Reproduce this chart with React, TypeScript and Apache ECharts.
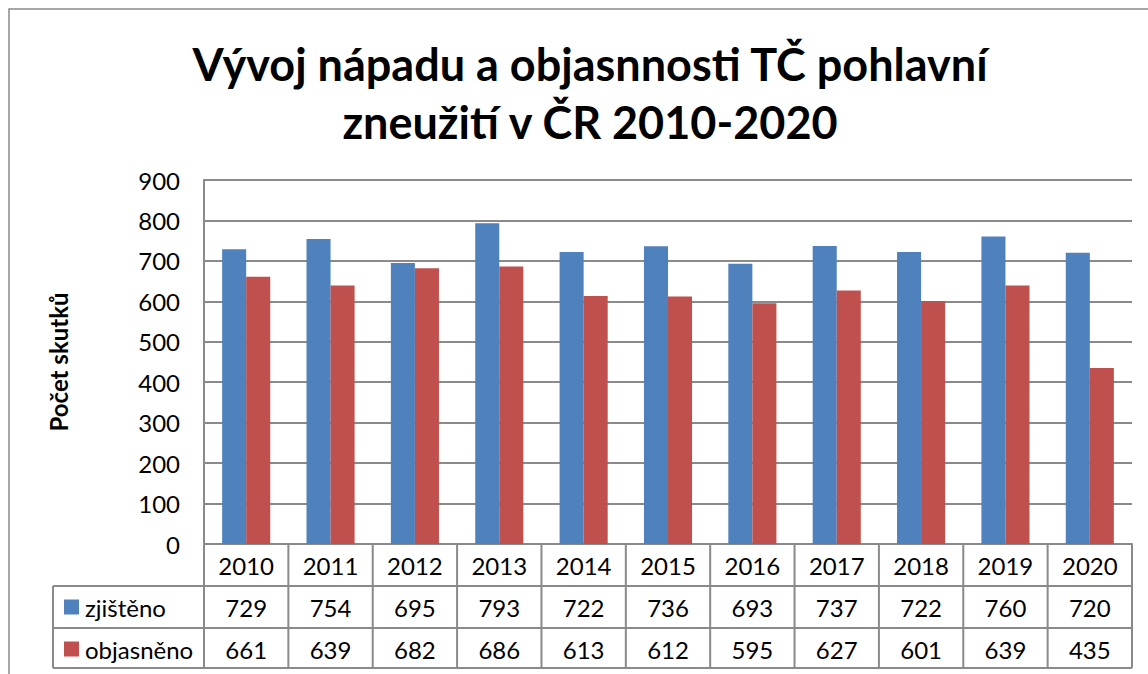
import React, { useEffect, useRef } from "react";
import * as echarts from "echarts";

const years = ["2010", "2011", "2012", "2013", "2014", "2015", "2016", "2017", "2018", "2019", "2020"];
const zjisteno = [729, 754, 695, 793, 722, 736, 693, 737, 722, 760, 720];
const objasneno = [661, 639, 682, 686, 613, 612, 595, 627, 601, 639, 435];
const seriesNames = ["zjištěno", "objasněno"];
const colors = ["#4F81BD", "#C0504D"];

const FONT = "Lato, 'Noto Sans', sans-serif";
const FS = 24;
const GRID = { left: 204, top: 180, width: 928, height: 364 };
const ROW_H = 42;
const LEGEND_X = 53;
const LINE = "#8a8a8a";

export default function App() {
  const ref = useRef<HTMLDivElement>(null);
  useEffect(() => {
    document.body.style.margin = "0";
    const chart = echarts.init(ref.current!, null, { renderer: "svg" });
    const right = GRID.left + GRID.width;
    const bottom = GRID.top + GRID.height;
    const cw = GRID.width / years.length;
    const rowsTop = bottom + ROW_H;
    const tableBottom = rowsTop + ROW_H * 2 - 2;
    const g: any[] = [];
    g.push({ type: "rect", shape: { x: 9, y: 9, width: 1200, height: 800 }, style: { fill: "none", stroke: LINE, lineWidth: 1.5 }, silent: true });
    [rowsTop, rowsTop + ROW_H, tableBottom].forEach((y) => {
      g.push({ type: "line", shape: { x1: LEGEND_X, y1: y, x2: right, y2: y }, style: { stroke: LINE, lineWidth: 2 } });
    });
    g.push({ type: "line", shape: { x1: LEGEND_X, y1: rowsTop, x2: LEGEND_X, y2: tableBottom }, style: { stroke: LINE, lineWidth: 2 } });
    for (let i = 0; i <= years.length; i++) {
      const x = GRID.left + i * cw;
      g.push({ type: "line", shape: { x1: x, y1: bottom, x2: x, y2: tableBottom }, style: { stroke: LINE, lineWidth: 2 } });
    }
    [zjisteno, objasneno].forEach((arr, r) => {
      const cy = rowsTop + ROW_H * r + ROW_H / 2;
      g.push({ type: "rect", shape: { x: 64, y: cy - 7.5, width: 15, height: 15 }, style: { fill: colors[r] } });
      g.push({ type: "text", x: 85, y: cy, style: { text: seriesNames[r], font: `${FS}px ${FONT}`, fill: "#000", textAlign: "left", textVerticalAlign: "middle" } });
      arr.forEach((v, i) => {
        g.push({ type: "text", x: GRID.left + (i + 0.5) * cw, y: cy, style: { text: String(v), font: `${FS}px ${FONT}`, fill: "#000", textAlign: "center", textVerticalAlign: "middle" } });
      });
    });

    chart.setOption({
      animation: false,
      title: {
        text: "Vývoj nápadu a objasnnosti TČ pohlavní\nzneužití v ČR 2010-2020",
        left: 585,
        textAlign: "center",
        top: 30,
        textStyle: { fontFamily: FONT, fontWeight: "bold", fontSize: 45, lineHeight: 58, color: "#000" },
      },
      grid: { left: GRID.left, top: GRID.top, width: GRID.width, height: GRID.height },
      xAxis: {
        type: "category",
        data: years,
        axisLine: { lineStyle: { color: LINE, width: 2 } },
        axisTick: { show: false },
        axisLabel: { fontFamily: FONT, fontSize: FS, color: "#000", margin: 9 },
      },
      yAxis: {
        type: "value",
        min: 0,
        max: 900,
        interval: 100,
        name: "Počet skutků",
        nameLocation: "middle",
        nameRotate: 90,
        nameGap: 134,
        nameTextStyle: { fontFamily: FONT, fontWeight: "bold", fontSize: FS, color: "#000" },
        axisLine: { show: true, lineStyle: { color: LINE, width: 2 } },
        axisTick: { show: false },
        axisLabel: { fontFamily: FONT, fontSize: FS, color: "#000", margin: 24 },
        splitLine: { lineStyle: { color: LINE, width: 2 } },
      },
      series: [
        { name: seriesNames[0], type: "bar", data: zjisteno, barGap: "0%", barCategoryGap: "43%", itemStyle: { color: colors[0] } },
        { name: seriesNames[1], type: "bar", data: objasneno, barGap: "0%", barCategoryGap: "43%", itemStyle: { color: colors[1] } },
      ],
      graphic: g,
    });
    return () => chart.dispose();
  }, []);
  return <div ref={ref} style={{ width: 1148, height: 674 }} />;
}
